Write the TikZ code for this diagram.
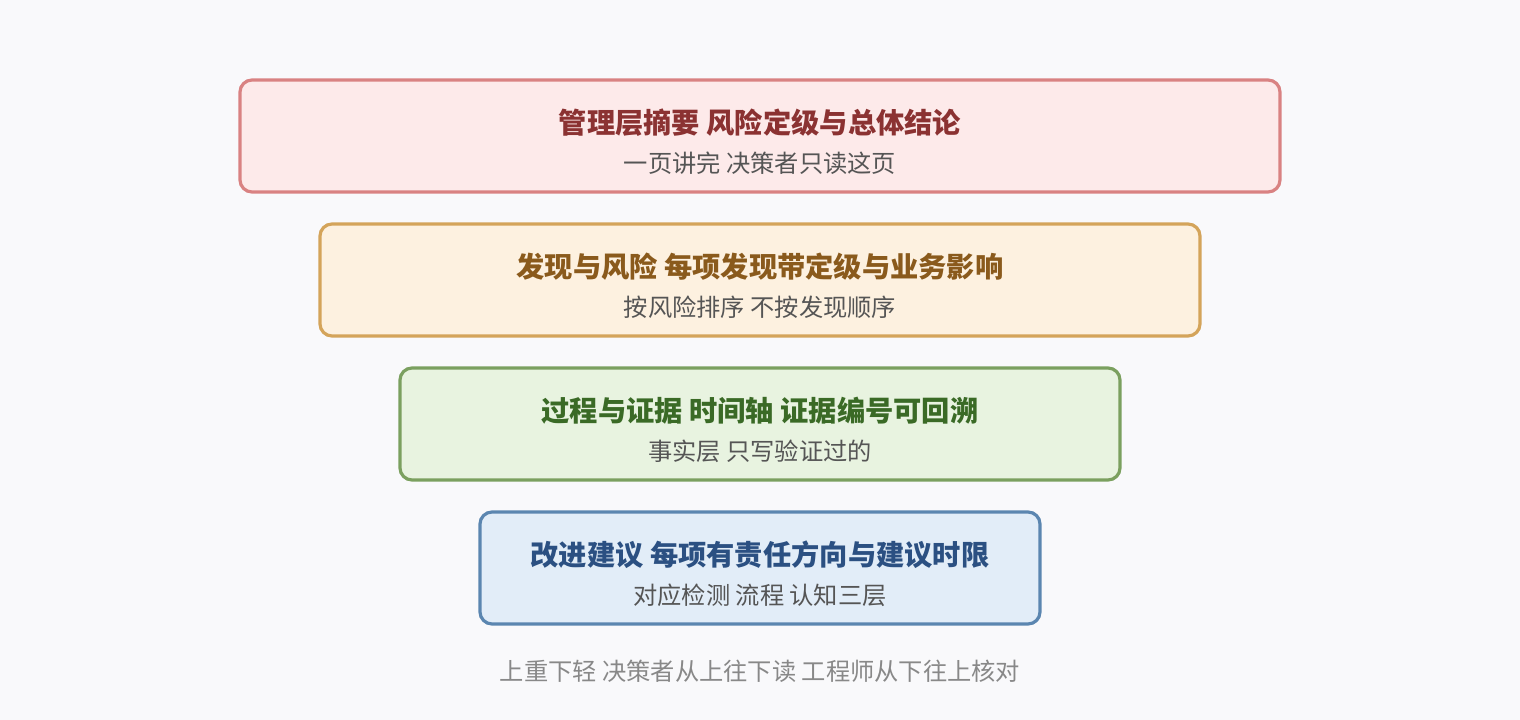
\documentclass[tikz,border=0pt]{standalone}
\usepackage{fontspec}
\setmainfont{Noto Sans CJK SC}
\definecolor{bgc}{HTML}{F9F9FB}
\definecolor{fA}{HTML}{FDEAEA}\definecolor{dA}{HTML}{D98282}\definecolor{tA}{HTML}{8B3232}
\definecolor{fB}{HTML}{FDF1E0}\definecolor{dB}{HTML}{D4A45A}\definecolor{tB}{HTML}{8A5A1C}
\definecolor{fC}{HTML}{E8F3E0}\definecolor{dC}{HTML}{7BA05F}\definecolor{tC}{HTML}{3A6A26}
\definecolor{fD}{HTML}{E2EDF8}\definecolor{dD}{HTML}{5B86B0}\definecolor{tD}{HTML}{2B5082}
\definecolor{subc}{HTML}{555555}
\definecolor{notec}{HTML}{888888}
\tikzset{
  layer/.style={draw, line width=2.4pt, rounded corners=9pt},
  ttl/.style={font=\fontsize{21.2}{24}\selectfont\bfseries, anchor=center},
  sub/.style={font=\fontsize{18.2}{21}\selectfont, text=subc, anchor=center},
  note/.style={font=\fontsize{18.2}{21}\selectfont, text=notec, anchor=center}
}
\begin{document}
\begin{tikzpicture}[x=0.75pt,y=-0.75pt]
\fill[bgc] (0,0) rectangle (1520,720);
\useasboundingbox (0,0) rectangle (1520,720);
% layer 1
\draw[layer, fill=fA, draw=dA] (240,80) rectangle (1280,192);
\node[ttl, text=tA] (t1) at (760,123) {管理层摘要 风险定级与总体结论};
\node[sub] (s1) at (760,163) {一页讲完 决策者只读这页};
% layer 2
\draw[layer, fill=fB, draw=dB] (320,224) rectangle (1200,336);
\node[ttl, text=tB] (t2) at (760,267) {发现与风险 每项发现带定级与业务影响};
\node[sub] (s2) at (760,307) {按风险排序 不按发现顺序};
% layer 3
\draw[layer, fill=fC, draw=dC] (400,368) rectangle (1120,480);
\node[ttl, text=tC] (t3) at (760,411) {过程与证据 时间轴 证据编号可回溯};
\node[sub] (s3) at (760,451) {事实层 只写验证过的};
% layer 4
\draw[layer, fill=fD, draw=dD] (480,512) rectangle (1040,624);
\node[ttl, text=tD] (t4) at (760,555) {改进建议 每项有责任方向与建议时限};
\node[sub] (s4) at (760,595) {对应检测 流程 认知三层};
% note
\node[note] (n) at (760,671) {上重下轻 决策者从上往下读 工程师从下往上核对};
\end{tikzpicture}
\end{document}
